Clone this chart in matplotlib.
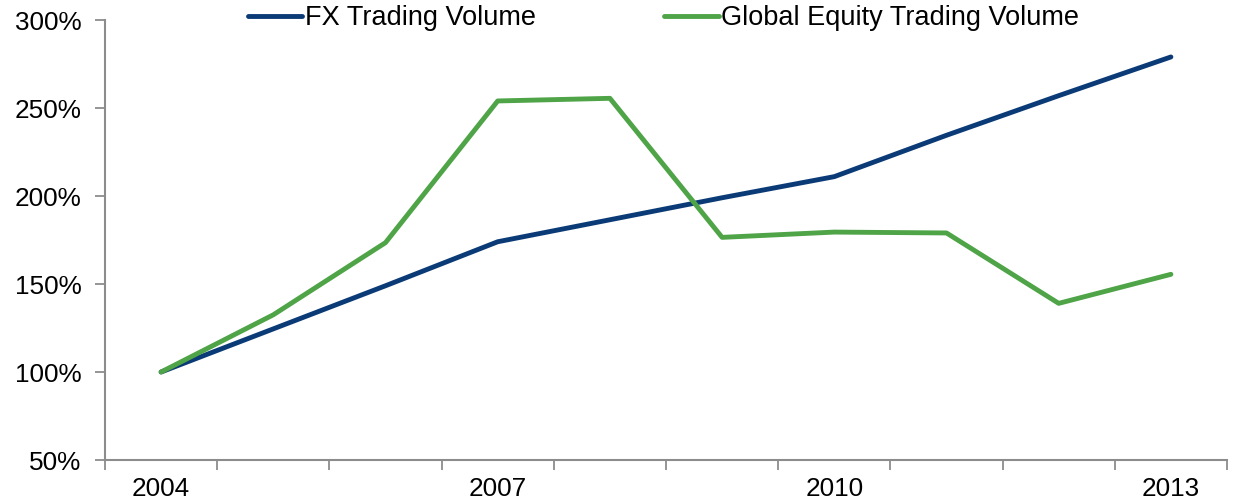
import matplotlib
matplotlib.use("Agg")
import matplotlib.pyplot as plt
from matplotlib.ticker import FuncFormatter, FixedLocator

plt.rcParams['font.family'] = ['Liberation Sans', 'DejaVu Sans']

# Data (indexed to 2004 = 100%)
years = [2004, 2005, 2006, 2007, 2008, 2009, 2010, 2011, 2012, 2013]
fx_volume = [100, 124.5, 149, 174, 186.5, 199, 211, 234.5, 257, 279]
equity_volume = [100, 132.5, 173.5, 254, 255.5, 176.5, 179.5, 179, 139, 155.5]
year_labels = ['2004', '', '', '2007', '', '', '2010', '', '', '2013']

navy = '#0B3B76'
green = '#4EA447'
axis_grey = '#8C8C8C'

fig = plt.figure(figsize=(12.37, 5.04), dpi=100)
ax = fig.add_axes([105 / 1237, 44 / 504, 1122 / 1237, 440 / 504])

x = list(range(len(years)))
ax.plot(x, fx_volume, color=navy, lw=3.5, label='FX Trading Volume', solid_capstyle='round')
ax.plot(x, equity_volume, color=green, lw=3.5, label='Global Equity Trading Volume', solid_capstyle='round')

ax.set_xlim(-0.5, len(years) - 0.5)
ax.set_ylim(50, 300)
ax.set_yticks([50, 100, 150, 200, 250, 300])
ax.yaxis.set_major_formatter(FuncFormatter(lambda v, p: f'{v:.0f}%'))

# category axis: labels at centres, tick marks at boundaries
ax.set_xticks(x)
ax.set_xticklabels(year_labels)
ax.xaxis.set_minor_locator(FixedLocator([i - 0.5 for i in range(len(years) + 1)]))
ax.tick_params(axis='x', which='major', length=0, pad=12, labelsize=18.8)
ax.tick_params(axis='x', which='minor', length=7, width=1.3, color=axis_grey)
ax.tick_params(axis='y', length=7, width=1.3, color=axis_grey, labelsize=18.8, pad=10)

for s in ['top', 'right']:
    ax.spines[s].set_visible(False)
for s in ['left', 'bottom']:
    ax.spines[s].set_color(axis_grey)
    ax.spines[s].set_linewidth(1.5)

fig.legend(loc='center', bbox_to_anchor=(0.5364, 0.964), ncol=2, frameon=False,
           fontsize=19.5, handlelength=2.0, handletextpad=0.1, columnspacing=4.75)

fig.savefig('out.png', dpi=100)
